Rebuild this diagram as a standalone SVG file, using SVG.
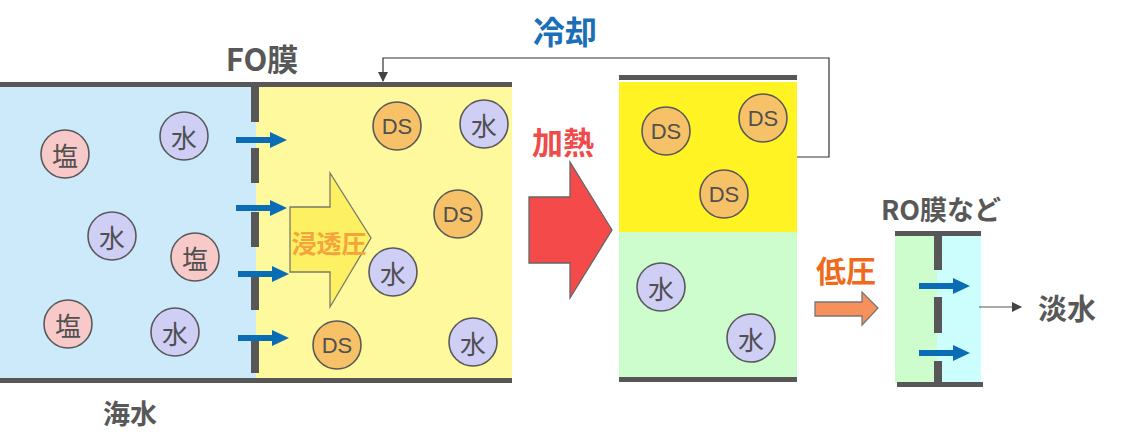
<svg xmlns="http://www.w3.org/2000/svg" width="1122" height="448" viewBox="0 0 1122 448">
<defs>
<style>
.bar{fill:#575757}
.c{stroke:#595959;stroke-width:1.6}
.salt{fill:#f8c9c9}
.water{fill:#cfcff6}
.ds{fill:#f7c267}
.ct{font-family:"Noto Sans CJK JP",sans-serif;font-size:26px;fill:#505050;text-anchor:middle;dominant-baseline:central}
.dt{font-family:"Liberation Sans",Arial,sans-serif;font-size:22px;fill:#505050;text-anchor:middle;dominant-baseline:central}
.lbl{font-family:"Noto Sans CJK JP",sans-serif;font-weight:bold;text-anchor:middle;dominant-baseline:central}
.blue{stroke:#0b6cb6;stroke-width:6;fill:none}
.bhead{fill:#0b6cb6}
</style>
<marker id="gh" viewBox="0 0 10 10" refX="9" refY="5" markerWidth="10" markerHeight="10" orient="auto" markerUnits="userSpaceOnUse"><path d="M0,0 L10,5 L0,10 z" fill="#444"/></marker>
</defs>
<rect width="1122" height="448" fill="#ffffff"/>

<g id="fo-tank">
<rect x="0" y="86" width="256" height="293" fill="#cdeafb"/>
<rect x="256" y="86" width="256" height="293" fill="#fef99c"/>
<rect x="0" y="82" width="512" height="5" class="bar"/>
<rect x="0" y="378" width="512" height="5" class="bar"/>
</g>

<g id="fo-membrane" class="bar">
<rect x="251" y="86" width="8" height="36"/>
<rect x="251" y="148" width="8" height="35"/>
<rect x="251" y="212" width="8" height="35"/>
<rect x="251" y="277" width="8" height="33"/>
<rect x="251" y="338" width="8" height="35"/>
</g>

<g id="osmotic-pressure">
<path d="M290,207 H330 V173 L371,238 L330,307 V272 H290 Z" fill="#fdf063" stroke="#7a7a6a" stroke-width="1.3"/>
<text x="329" y="242" class="lbl" font-size="25" fill="#f5a33c">浸透圧</text>
</g>

<g id="seawater-particles">
<circle cx="65" cy="154" r="24" class="c salt"/><text x="65" y="154" class="ct">塩</text>
<circle cx="184" cy="136" r="24" class="c water"/><text x="184" y="136" class="ct">水</text>
<circle cx="112" cy="236" r="24" class="c water"/><text x="112" y="236" class="ct">水</text>
<circle cx="195" cy="257" r="24" class="c salt"/><text x="195" y="257" class="ct">塩</text>
<circle cx="68" cy="324" r="24" class="c salt"/><text x="68" y="324" class="ct">塩</text>
<circle cx="175" cy="332" r="24" class="c water"/><text x="175" y="332" class="ct">水</text>
</g>

<g id="draw-solution-particles">
<circle cx="397" cy="126" r="24" class="c ds"/><text x="397" y="126" class="dt">DS</text>
<circle cx="484" cy="124" r="24" class="c water"/><text x="484" y="124" class="ct">水</text>
<circle cx="458" cy="214" r="24" class="c ds"/><text x="458" y="214" class="dt">DS</text>
<circle cx="393" cy="272" r="24" class="c water"/><text x="393" y="272" class="ct">水</text>
<circle cx="337" cy="345" r="24" class="c ds"/><text x="337" y="345" class="dt">DS</text>
<circle cx="473" cy="342" r="24" class="c water"/><text x="473" y="342" class="ct">水</text>
</g>

<g id="heating">
<path d="M529,197 H570 V162 L612,230 L570,298 V263 H529 Z" fill="#f54a4a" stroke="#666" stroke-width="1.3"/>
<text x="563" y="140" class="lbl" font-size="31" fill="#f04a4a">加熱</text>
</g>

<g id="separator">
<rect x="619" y="82" width="178" height="150" fill="#fff324"/>
<rect x="619" y="232" width="178" height="146" fill="#cdfccd"/>
<rect x="619" y="75" width="178" height="5" class="bar"/>
<rect x="619" y="377" width="178" height="5" class="bar"/>
<circle cx="666" cy="131" r="24" class="c ds"/><text x="666" y="131" class="dt">DS</text>
<circle cx="763" cy="118" r="24" class="c ds"/><text x="763" y="118" class="dt">DS</text>
<circle cx="724" cy="194" r="24" class="c ds"/><text x="724" y="194" class="dt">DS</text>
<circle cx="661" cy="287" r="24" class="c water"/><text x="661" y="287" class="ct">水</text>
<circle cx="751" cy="338" r="24" class="c water"/><text x="751" y="338" class="ct">水</text>
</g>

<g id="low-pressure">
<path d="M815,302 H862 V292 L878,308 L862,325 V316 H815 Z" fill="#f7915c" stroke="#777" stroke-width="1.3"/>
<text x="846" y="269" class="lbl" font-size="30" fill="#f06a1c">低圧</text>
</g>

<g id="ro-unit">
<rect x="895" y="235" width="42" height="148" fill="#cdfccd"/>
<rect x="937" y="235" width="44" height="148" fill="#ccfefe"/>
<rect x="895" y="231" width="86" height="5" class="bar"/>
<rect x="897" y="382" width="86" height="5" class="bar"/>
<rect x="934" y="233" width="8" height="37" class="bar"/>
<rect x="934" y="297" width="8" height="36" class="bar"/>
<rect x="934" y="361" width="8" height="23" class="bar"/>
</g>

<g id="labels">
<text x="262" y="57" class="lbl" font-size="31" fill="#585858">FO膜</text>
<text x="565" y="30" class="lbl" font-size="32" fill="#1a6fb8">冷却</text>
<text x="130" y="412" class="lbl" font-size="27" fill="#585858">海水</text>
<text x="941" y="208" class="lbl" font-size="27" fill="#585858">RO膜など</text>
<text x="1067" y="307" class="lbl" font-size="29" fill="#585858">淡水</text>
</g>

<g id="connectors">
<path d="M236,140 H272" class="blue"/><path d="M270,132 L287,140 L270,148 Z" class="bhead"/>
<path d="M236,208 H272" class="blue"/><path d="M270,200 L287,208 L270,216 Z" class="bhead"/>
<path d="M238,274 H274" class="blue"/><path d="M272,266 L289,274 L272,282 Z" class="bhead"/>
<path d="M238,338 H274" class="blue"/><path d="M272,330 L289,338 L272,346 Z" class="bhead"/>
<path d="M919,286 H955" class="blue"/><path d="M953,278 L970,286 L953,294 Z" class="bhead"/>
<path d="M919,353 H955" class="blue"/><path d="M953,345 L970,353 L953,361 Z" class="bhead"/>
<path d="M797,157 H829 V58 H383 V81" fill="none" stroke="#333" stroke-width="1.2" marker-end="url(#gh)"/>
<path d="M979,307 H1021" fill="none" stroke="#555" stroke-width="1.2" marker-end="url(#gh)"/>
</g>
</svg>
